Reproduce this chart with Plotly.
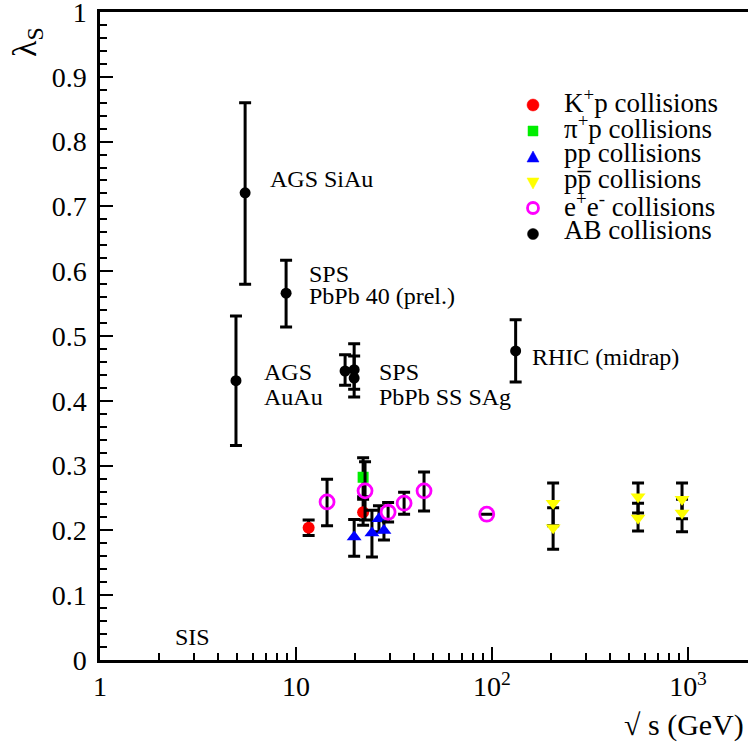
import plotly.graph_objects as go

# ---- data ----
kp_x = [11.6, 22.0]
kp_y = [0.204, 0.228]
kp_err = [0.012, 0.02]

pip_x = [22.0]
pip_y = [0.282]
pip_err = [0.03]

pp_x = [19.8, 24.4, 26.5, 28.1]
pp_y = [0.190, 0.196, 0.218, 0.200]
pp_err_p = [0.027, 0.035, 0.020, 0.015]
pp_err_m = [0.030, 0.037, 0.020, 0.015]

ppbar_x = [205, 205, 556, 556, 932, 932]
ppbar_y = [0.242, 0.204, 0.252, 0.219, 0.248, 0.227]
ppbar_err_p = [0.031, 0.031, 0.021, 0.023, 0.025, 0.021]
ppbar_err_m = [0.035, 0.033, 0.025, 0.020, 0.030, 0.029]

ee_x = [14.4, 22.5, 29.5, 35.6, 45.0, 94.0]
ee_y = [0.244, 0.261, 0.228, 0.242, 0.261, 0.225]
ee_err_p = [0.035, 0.045, 0.015, 0.017, 0.029, 0.0]
ee_err_m = [0.037, 0.045, 0.015, 0.017, 0.031, 0.0]

ab_x = [5.5, 4.94, 8.9, 17.8, 19.8, 19.8, 132]
ab_y = [0.721, 0.431, 0.566, 0.446, 0.448, 0.435, 0.477]
ab_err_p = [0.139, 0.10, 0.051, 0.025, 0.040, 0.034, 0.048]
ab_err_m = [0.141, 0.10, 0.052, 0.022, 0.030, 0.029, 0.048]

series_names = ["K<sup>+</sup>p collisions", "π<sup>+</sup>p collisions", "pp collisions",
                "pp\u0305 collisions", "e<sup>+</sup>e<sup>-</sup> collisions", "AB collisions"]
series_colors = ["#ff0000", "#00ee00", "#0000ff", "#ffff00", "#ff00ff", "#000000"]

x_tickvals = [1, 10, 100, 1000]
x_ticktext = ["1", "10", "10<sup>2</sup>", "10<sup>3</sup>"]
x_minor = [m * d for d in (1, 10, 100, 1000) for m in range(2, 10)]
y_tickvals = [0, 0.1, 0.2, 0.3, 0.4, 0.5, 0.6, 0.7, 0.8, 0.9, 1.0]
y_ticktext = ["0", "0.1", "0.2", "0.3", "0.4", "0.5", "0.6", "0.7", "0.8", "0.9", "1"]

labels = [
    ("AGS SiAu", 268, 179),
    ("SPS", 307, 274),
    ("PbPb 40 (prel.)", 307, 296),
    ("AGS", 262, 372),
    ("AuAu", 262, 397),
    ("SPS", 377, 372),
    ("PbPb SS SAg", 377, 397),
    ("RHIC (midrap)", 530, 357),
    ("SIS", 173, 637),
]

FONT = "Liberation Serif"
W, H = 748, 749
L, R, T, B = 100, 0, 12, 89
PW, PH = W - L - R, H - T - B


def px2paper_x(px):
    return (px - L) / PW


def px2paper_y(py):
    return (H - B - py) / PH


def eb(p, m=None):
    d = dict(type="data", array=p, color="black", thickness=3, width=6, visible=True)
    if m is not None:
        d["arrayminus"] = m
        d["symmetric"] = False
    return d


fig = go.Figure()
fig.add_trace(go.Scatter(x=kp_x, y=kp_y, mode="markers", name=series_names[0],
                         marker=dict(symbol="circle", size=12, color=series_colors[0]), error_y=eb(kp_err)))
fig.add_trace(go.Scatter(x=pip_x, y=pip_y, mode="markers", name=series_names[1],
                         marker=dict(symbol="square", size=11, color=series_colors[1]), error_y=eb(pip_err)))
fig.add_trace(go.Scatter(x=pp_x, y=pp_y, mode="markers", name=series_names[2],
                         marker=dict(symbol="triangle-up", size=13, color=series_colors[2]),
                         error_y=eb(pp_err_p, pp_err_m)))
fig.add_trace(go.Scatter(x=ppbar_x, y=ppbar_y, mode="markers", name=series_names[3],
                         marker=dict(symbol="triangle-down", size=13, color=series_colors[3]),
                         error_y=eb(ppbar_err_p, ppbar_err_m)))
fig.add_trace(go.Scatter(x=ee_x, y=ee_y, mode="markers", name=series_names[4],
                         marker=dict(symbol="circle-open", size=14, color=series_colors[4],
                                     line=dict(width=2.8, color=series_colors[4])),
                         error_y=eb(ee_err_p, ee_err_m)))
fig.add_trace(go.Scatter(x=ab_x, y=ab_y, mode="markers", name=series_names[5],
                         marker=dict(symbol="circle", size=11, color=series_colors[5]),
                         error_y=eb(ab_err_p, ab_err_m)))

annotations = []
shapes = []
for txt, lx, cy in labels:
    annotations.append(dict(text=txt, xref="paper", yref="paper", x=px2paper_x(lx), y=px2paper_y(cy),
                            xanchor="left", yanchor="middle", showarrow=False,
                            font=dict(family=FONT, size=24, color="black")))
annotations.append(dict(text="λ<sub>S</sub>", xref="paper", yref="paper", x=px2paper_x(27),
                        y=px2paper_y(42), xanchor="center", yanchor="middle", textangle=-90,
                        showarrow=False, font=dict(family=FONT, size=34, color="black")))
annotations.append(dict(text="√ s (GeV)", xref="paper", yref="paper", x=px2paper_x(746),
                        y=px2paper_y(725), xanchor="right", yanchor="middle",
                        showarrow=False, font=dict(family=FONT, size=30, color="black")))

# ---- hand-built legend (ROOT-style, tight rows) ----
leg_mx, leg_tx = 533, 562
text_rows = [101, 127, 153, 179, 205, 230]
mark_rows = [105, 131, 157, 183, 208, 234]
for i, name in enumerate(series_names):
    annotations.append(dict(text=name, xref="paper", yref="paper", x=px2paper_x(leg_tx),
                            y=px2paper_y(text_rows[i]), xanchor="left", yanchor="middle",
                            showarrow=False, font=dict(family=FONT, size=27, color="black")))


def circ(cx, cy, r, fill, line_c, lw):
    return dict(type="circle", xref="paper", yref="paper",
                x0=px2paper_x(cx - r), x1=px2paper_x(cx + r),
                y0=px2paper_y(cy + r), y1=px2paper_y(cy - r),
                fillcolor=fill, line=dict(color=line_c, width=lw))


def poly(pts, fill):
    p = "M " + " L ".join(f"{px2paper_x(a):.5f},{px2paper_y(b):.5f}" for a, b in pts) + " Z"
    return dict(type="path", xref="paper", yref="paper", path=p, fillcolor=fill,
                line=dict(color=fill, width=0.5))


m = mark_rows
shapes.append(circ(leg_mx, m[0], 6, series_colors[0], series_colors[0], 0.5))
shapes.append(poly([(leg_mx - 5, m[1] - 5), (leg_mx + 5, m[1] - 5), (leg_mx + 5, m[1] + 5),
                    (leg_mx - 5, m[1] + 5)], series_colors[1]))
shapes.append(poly([(leg_mx - 6, m[2] + 5), (leg_mx + 6, m[2] + 5), (leg_mx, m[2] - 6)], series_colors[2]))
shapes.append(poly([(leg_mx - 6, m[3] - 5), (leg_mx + 6, m[3] - 5), (leg_mx, m[3] + 6)], series_colors[3]))
shapes.append(circ(leg_mx, m[4], 5.5, "rgba(0,0,0,0)", series_colors[4], 2.8))
shapes.append(circ(leg_mx, m[5], 5.5, series_colors[5], series_colors[5], 0.5))

fig.update_layout(
    width=W, height=H,
    margin=dict(l=L, r=R, t=T, b=B, pad=0, autoexpand=False),
    paper_bgcolor="white", plot_bgcolor="white",
    font=dict(family=FONT, color="black"),
    annotations=annotations,
    shapes=shapes,
    showlegend=False,
    xaxis=dict(type="log", range=[0, 3.306], tickvals=x_tickvals, ticktext=x_ticktext,
               ticks="inside", ticklen=13, tickwidth=2, tickcolor="black",
               showline=True, linewidth=2.5, linecolor="black", mirror=True,
               showgrid=False, zeroline=False, ticklabeloverflow="allow", automargin=False,
               tickfont=dict(family=FONT, size=28, color="black"),
               minor=dict(tickvals=x_minor, ticks="inside", ticklen=7, tickwidth=2,
                          tickcolor="black", showgrid=False)),
    yaxis=dict(range=[0, 1], tickmode="array", tickvals=y_tickvals, ticktext=y_ticktext,
               ticks="inside", ticklen=13, tickwidth=2, tickcolor="black",
               showline=True, linewidth=2.5, linecolor="black", mirror=False,
               showgrid=False, zeroline=False, ticklabelstandoff=5, ticklabeloverflow="allow",
               automargin=False,
               tickfont=dict(family=FONT, size=28, color="black"),
               minor=dict(dtick=0.02, tick0=0, ticks="inside", ticklen=7, tickwidth=2,
                          tickcolor="black", showgrid=False)),
)

fig.write_html("out.html")
